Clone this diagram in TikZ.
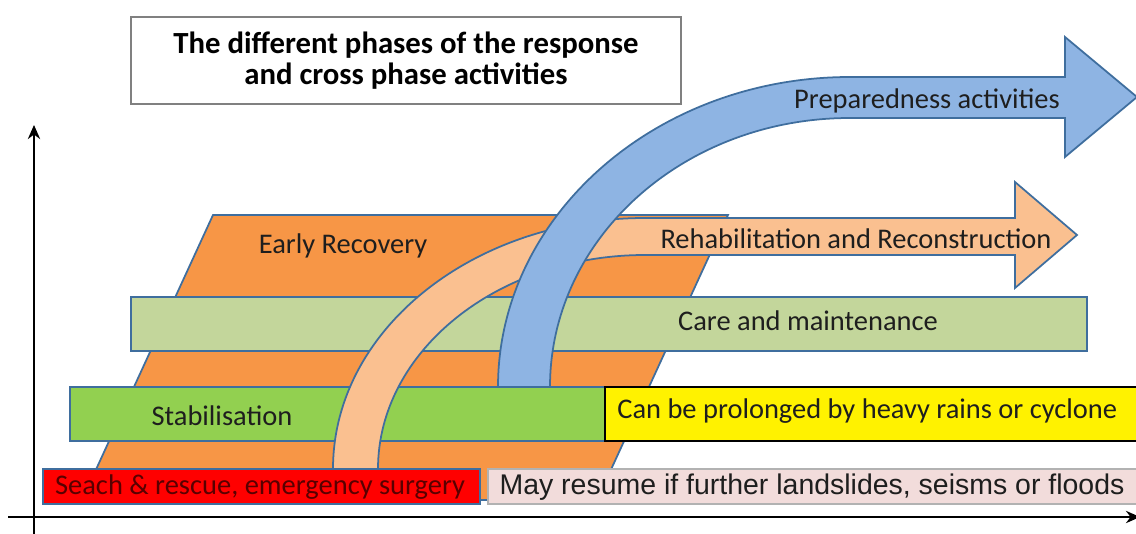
\documentclass[tikz,border=0pt]{standalone}
\usepackage{fontspec}
\setmainfont{Carlito}
\newfontfamily\arialfont{Liberation Sans}
\usetikzlibrary{arrows.meta}

\definecolor{phaseedge}{HTML}{3F6E9E}
\definecolor{recovery}{HTML}{F79646}
\definecolor{care}{HTML}{C3D69B}
\definecolor{stabil}{HTML}{92D050}
\definecolor{rescue}{HTML}{FF0000}
\definecolor{resume}{HTML}{F2DCDB}
\definecolor{rehab}{HTML}{FAC090}
\definecolor{prepare}{HTML}{8EB4E3}
\definecolor{darktext}{HTML}{1E1E1E}

\begin{document}
\begin{tikzpicture}[x=0.02cm,y=-0.02cm,
  phase/.style={draw=phaseedge,line width=1pt},
  lbl/.style={font=\fontsize{16.2}{19}\selectfont,text=darktext,inner sep=0pt},
  axis/.style={line width=1.1pt,-{Stealth[length=8pt,width=7pt]}}]
\useasboundingbox (0,0) rectangle (1136,534);

% axes
\coordinate (yfoot) at (34,534);
\coordinate (ytop) at (34,125);
\coordinate (xfoot) at (8,517);
\coordinate (xend) at (1140,517);
\draw[axis] (yfoot) -- (ytop);
\draw[axis] (xfoot) -- (xend);

% title
\node[draw=gray,line width=0.7pt,minimum width=11cm,minimum height=1.74cm,align=center,
  font=\fontsize{17.5}{18}\bfseries\selectfont] (title) at (406,60.5)
  {The different phases of the response\\and cross phase activities};

% phases
\filldraw[phase,fill=recovery] (213,215) -- (728,215) -- (597,500) -- (82,500) -- cycle;
\node[lbl] (early) at (343,246) {Early Recovery};
\filldraw[phase,fill=care] (131,297) rectangle (1087,351);
\node[lbl] (care) at (808,321) {Care and maintenance};
\filldraw[phase,fill=stabil] (70,387) rectangle (605,441);
\node[lbl] (stab) at (222,416) {Stabilisation};
\filldraw[draw=black,line width=1pt,fill=yellow] (605,387) rectangle (1140,441);
\node[lbl,anchor=west] (rains) at (617,411) {Can be prolonged by heavy rains or cyclone};
\filldraw[phase,fill=rescue] (43,469) rectangle (480,504);
\node[lbl,text=red!35!black] (rescue) at (260,487) {Seach \& rescue, emergency surgery};
\filldraw[draw=gray!60,line width=0.7pt,fill=resume] (488,469) rectangle (1140,504);
\node[lbl,font=\arialfont\fontsize{16.2}{19}\selectfont] (resume) at (812,487)
  {May resume if further landslides, seisms or floods};

% cross phase arrows
\filldraw[phase,fill=rehab] (333,469) .. controls (333,330) and (473,218) .. (645,218)
  -- (1015,218) -- (1015,182) -- (1077,235) -- (1015,288) -- (1015,255) -- (645,255)
  .. controls (498,255) and (378,351) .. (378,469) -- cycle;
\node[lbl] (rehab) at (856,239) {Rehabilitation and Reconstruction};
\filldraw[phase,fill=prepare] (498,387) .. controls (498,216) and (656,77) .. (850,77)
  -- (1065,77) -- (1065,37) -- (1137,97) -- (1065,157) -- (1065,118) -- (850,118)
  .. controls (684,118) and (550,238) .. (550,387) -- cycle;
\node[lbl] (prep) at (927,101) {Preparedness activities};
\end{tikzpicture}
\end{document}
